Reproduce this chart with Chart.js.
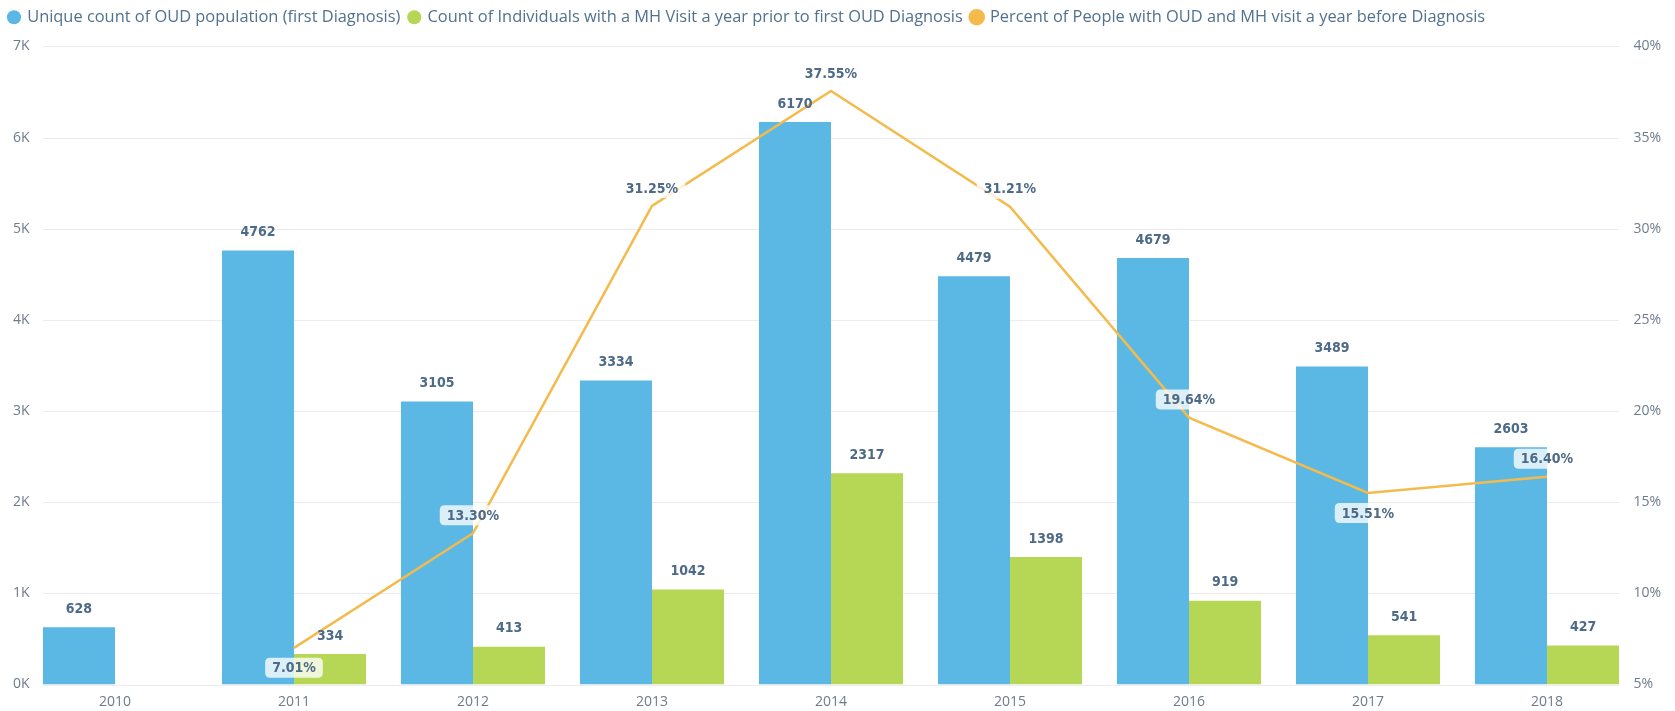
<!DOCTYPE html>
<html>
<head>
<meta charset="utf-8">
<script src="https://cdn.jsdelivr.net/npm/chart.js@4"></script>
<style>
  html, body { margin: 0; padding: 0; background: #fff; }
  #wrap { width: 1675px; height: 711px; }
</style>
</head>
<body>
<div id="wrap"><canvas id="oudChart" width="1675" height="711"></canvas></div>
<script>
// data
const years = ['2010', '2011', '2012', '2013', '2014', '2015', '2016', '2017', '2018'];
const oudCount = [628, 4762, 3105, 3334, 6170, 4479, 4679, 3489, 2603];
const mhCount = [null, 334, 413, 1042, 2317, 1398, 919, 541, 427];
const mhPercent = [null, 7.01, 13.30, 31.25, 37.55, 31.21, 19.64, 15.51, 16.40];
// where the percent label sits relative to its point
const percentLabelSide = [null, 'below', 'above', 'above', 'above', 'above', 'above', 'below', 'above'];
const leftTicks = [0, 1000, 2000, 3000, 4000, 5000, 6000, 7000];
const rightTicks = [5, 10, 15, 20, 25, 30, 35, 40];

const labelColor = '#4d6a87';
const tickColor = '#6d7c8c';

function roundRect(ctx, x, y, w, h, r) {
  ctx.beginPath();
  ctx.moveTo(x + r, y);
  ctx.lineTo(x + w - r, y);
  ctx.quadraticCurveTo(x + w, y, x + w, y + r);
  ctx.lineTo(x + w, y + h - r);
  ctx.quadraticCurveTo(x + w, y + h, x + w - r, y + h);
  ctx.lineTo(x + r, y + h);
  ctx.quadraticCurveTo(x, y + h, x, y + h - r);
  ctx.lineTo(x, y + r);
  ctx.quadraticCurveTo(x, y, x + r, y);
  ctx.closePath();
}

// leave a bit more room under the legend
const legendGap = {
  id: 'legendGap',
  afterInit(chart) {
    const legend = chart.legend;
    if (!legend) return;
    const fit = legend.fit;
    legend.fit = function () {
      fit.call(this);
      this.height += 11;
    };
  }
};

// gridlines only span from the first bar to the last bar, like Power BI
const gridPlugin = {
  id: 'pbiGrid',
  beforeDatasetsDraw(chart) {
    const ctx = chart.ctx;
    const y = chart.scales.y;
    const first = chart.getDatasetMeta(0).data[0];
    const last = chart.getDatasetMeta(1).data[years.length - 1];
    const x0 = first.x - first.width / 2;
    const x1 = last.x + last.width / 2;
    ctx.save();
    ctx.strokeStyle = '#ececec';
    ctx.lineWidth = 1;
    leftTicks.forEach(v => {
      const py = Math.round(y.getPixelForValue(v)) + 0.5;
      ctx.beginPath();
      ctx.moveTo(x0, py);
      ctx.lineTo(x1, py);
      ctx.stroke();
    });
    ctx.restore();
  }
};

// value labels on bars and the percent line
const labelPlugin = {
  id: 'pbiLabels',
  afterDatasetsDraw(chart) {
    const ctx = chart.ctx;
    ctx.save();
    ctx.font = 'bold 14px "DejaVu Sans Condensed", "DejaVu Sans", sans-serif';
    ctx.textAlign = 'center';
    ctx.textBaseline = 'middle';
    ctx.fillStyle = labelColor;
    [0, 1].forEach(di => {
      const vals = chart.data.datasets[di].data;
      chart.getDatasetMeta(di).data.forEach((bar, i) => {
        if (vals[i] == null) return;
        ctx.fillText(String(vals[i]), bar.x, bar.y - 18);
      });
    });
    chart.getDatasetMeta(2).data.forEach((pt, i) => {
      if (mhPercent[i] == null) return;
      const txt = mhPercent[i].toFixed(2) + '%';
      const ly = percentLabelSide[i] === 'below' ? pt.y + 20 : pt.y - 18;
      const w = ctx.measureText(txt).width + 14;
      ctx.fillStyle = 'rgba(255,255,255,0.78)';
      roundRect(ctx, pt.x - w / 2, ly - 10, w, 20, 5);
      ctx.fill();
      ctx.fillStyle = labelColor;
      ctx.fillText(txt, pt.x, ly + 1);
    });
    ctx.restore();
  }
};

const ctx = document.getElementById('oudChart').getContext('2d');
const oudChart = new Chart(ctx, {
  data: {
    labels: years,
    datasets: [
      {
        type: 'bar',
        label: 'Unique count of OUD population (first Diagnosis)',
        data: oudCount,
        backgroundColor: '#5bb7e3',
        borderWidth: 0,
        yAxisID: 'y',
        categoryPercentage: 0.805,
        barPercentage: 1.0
      },
      {
        type: 'bar',
        label: 'Count of Individuals with a MH Visit a year prior to first OUD Diagnosis',
        data: mhCount,
        backgroundColor: '#b6d755',
        borderWidth: 0,
        yAxisID: 'y',
        categoryPercentage: 0.805,
        barPercentage: 1.0
      },
      {
        type: 'line',
        label: 'Percent of People with OUD and MH visit a year before Diagnosis',
        data: mhPercent,
        borderColor: '#f4bb4c',
        backgroundColor: '#f4bb4c',
        borderWidth: 2.5,
        pointRadius: 0,
        tension: 0,
        yAxisID: 'y1',
        order: -1
      }
    ]
  },
  options: {
    responsive: false,
    animation: false,
    layout: { padding: 0 },
    plugins: {
      legend: {
        display: true,
        position: 'top',
        align: 'start',
        labels: {
          usePointStyle: true,
          pointStyle: 'circle',
          boxWidth: 10,
          boxHeight: 10,
          padding: 9,
          color: '#52718f',
          font: { family: '"Open Sans", sans-serif', size: 16.4 },
          sort: (a, b) => a.datasetIndex - b.datasetIndex
        }
      },
      tooltip: { enabled: false }
    },
    scales: {
      x: {
        offset: true,
        afterFit: s => { s.height = 26.5; },
        grid: { display: false, drawTicks: false },
        border: { display: false },
        ticks: {
          color: tickColor,
          padding: 9,
          font: { family: '"Open Sans", sans-serif', size: 14 }
        }
      },
      y: {
        position: 'left',
        min: 0,
        max: 7000,
        afterFit: s => { s.width = 25.5; s.paddingTop = 0; s.paddingBottom = 0; },
        afterBuildTicks: s => { s.ticks = leftTicks.map(v => ({ value: v })); },
        grid: { display: false, drawTicks: false },
        border: { display: false },
        ticks: {
          mirror: true,
          crossAlign: 'near',
          color: tickColor,
          padding: -12.5,
          font: { family: '"Open Sans", sans-serif', size: 14 },
          callback: v => (v / 1000) + 'K'
        }
      },
      y1: {
        position: 'right',
        min: 5,
        max: 40,
        afterFit: s => { s.width = 38.5; s.paddingTop = 0; s.paddingBottom = 0; },
        afterBuildTicks: s => { s.ticks = rightTicks.map(v => ({ value: v })); },
        grid: { display: false, drawTicks: false },
        border: { display: false },
        ticks: {
          mirror: true,
          crossAlign: 'far',
          color: tickColor,
          padding: 24.5,
          font: { family: '"Open Sans", sans-serif', size: 14 },
          callback: v => v + '%'
        }
      }
    }
  },
  plugins: [legendGap, gridPlugin, labelPlugin]
});
</script>
</body>
</html>
